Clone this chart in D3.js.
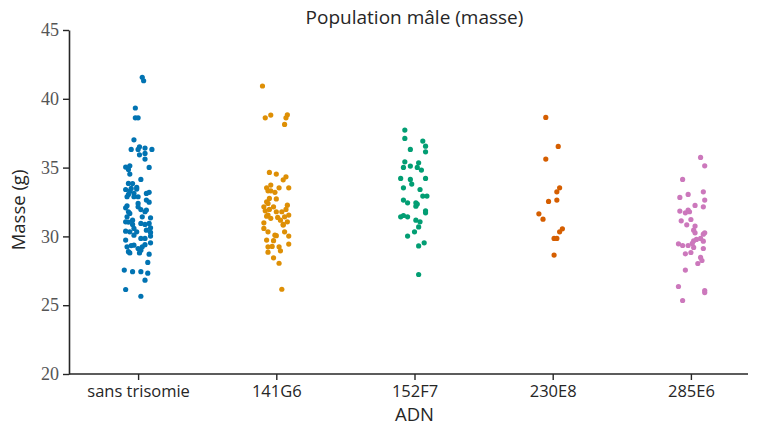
<!DOCTYPE html>
<html><head><meta charset="utf-8">
<script src="https://cdn.jsdelivr.net/npm/d3@7"></script>
<style>body{margin:0;background:#fff}svg{display:block}
.ytick text{font-family:"Liberation Serif","DejaVu Serif",serif !important;}
</style>
</head><body>
<svg id="c" width="760" height="427"></svg>
<script>
const categories = ["sans trisomie","141G6","152F7","230E8","285E6"];
const colors = ["#0173b2","#de8f05","#029e73","#d55e00","#cc78bc"];
const yTicks = [20,25,30,35,40,45];
const title = "Population mâle (masse)";
const xLabel = "ADN";
const yLabel = "Masse (g)";

// values (g) and horizontal jitter (fraction of category step), per category
const valsSans = [41.56,41.31,39.33,38.62,38.62,37.02,36.32,36.32,36.51,36.42,36.32,35.93,36.03,35.62,35.04,35.13,34.87,35.01,34.53,34.14,33.85,33.84,33.56,33.49,33.41,33.29,33.12,33.05,33.12,33.20,32.88,32.88,32.88,32.64,32.49,32.40,32.22,32.08,32.15,31.95,31.79,31.79,31.67,31.91,31.42,31.42,31.35,31.18,31.04,31.06,30.87,30.94,30.87,30.94,30.62,30.58,30.38,30.33,30.33,30.45,30.29,30.09,29.73,29.85,29.85,30.02,29.24,29.36,29.12,29.00,29.24,29.40,29.53,28.80,28.80,28.71,29.33,28.89,28.11,27.55,27.44,27.44,27.33,26.82,26.14,25.65,33.44];
const jitSans = [.03,.04,-.02,-.02,.00,-.03,-.05,.00,.01,.05,.10,.01,.05,.05,-.09,-.06,-.07,.08,-.06,.02,-.07,-.04,-.01,-.05,-.09,-.06,-.03,-.07,.06,.08,-.03,.00,-.08,.06,.08,.00,-.08,-.09,.00,.02,.05,-.07,-.06,.06,.03,-.08,.09,-.04,-.07,-.09,-.04,.02,.05,.08,.09,-.03,-.09,-.06,-.01,.06,.09,-.03,-.09,.02,.05,.09,-.08,-.03,.00,.02,.03,.05,.09,-.06,.01,.08,-.05,-.07,.07,-.10,-.04,.02,.07,.05,-.09,.02,-.01];

const vals141 = [40.93,38.62,38.82,38.84,38.62,38.14,34.65,34.53,34.33,34.11,33.73,33.53,33.53,33.53,33.31,33.31,33.20,32.76,32.72,32.51,32.40,32.15,32.15,32.27,31.86,31.96,31.79,31.79,31.96,31.55,31.42,31.55,31.47,31.31,31.38,31.18,30.99,31.06,30.82,30.58,30.33,30.09,30.05,30.33,30.02,29.73,29.69,29.44,29.24,29.27,29.24,28.85,28.95,28.44,28.05,26.16,30.87];
const jit141 = [-.10,-.08,-.04,.08,.07,.06,-.05,.00,.07,.05,-.04,-.07,.02,.09,-.06,-.04,-.01,-.05,.00,-.07,-.06,-.09,-.02,.08,-.08,-.05,.00,.04,.07,.09,.06,-.06,-.07,-.04,.01,.03,-.09,.08,.05,-.09,-.06,-.01,.00,.06,.09,-.07,-.02,.09,-.06,-.03,.02,-.06,.03,-.02,.02,.04,.05];

const vals152 = [37.73,37.12,36.93,36.56,36.15,36.32,35.42,35.01,35.11,35.35,35.01,34.82,34.21,34.14,33.80,34.21,33.53,33.41,32.93,32.93,32.64,32.44,32.44,32.20,32.35,31.86,31.71,31.42,31.52,31.42,31.18,31.06,30.69,30.33,30.02,29.53,29.31,27.23];
const jit152 = [-.07,-.07,.06,.08,.08,-.03,-.07,-.08,-.03,.03,.02,.05,-.10,-.03,-.02,.08,-.08,.04,.06,.09,-.08,-.05,.01,.01,.02,.08,.08,-.10,-.08,-.05,.01,.04,.03,.00,-.05,.07,.03,.03];

const vals230 = [38.65,36.54,35.62,33.53,33.24,32.54,32.64,31.64,31.25,30.55,30.33,29.85,29.85,28.64];
const jit230 = [-.05,.04,-.05,.05,.03,-.03,.03,-.10,-.07,.07,.05,.01,.03,.01];

const vals285 = [35.74,35.13,34.14,32.83,33.05,33.24,32.64,32.15,32.25,31.84,31.91,31.71,31.79,31.13,30.84,31.23,30.75,30.45,30.26,30.16,30.26,29.85,29.78,29.68,29.49,29.65,29.46,29.34,29.34,29.20,29.12,28.73,28.83,28.47,28.25,28.03,27.55,26.36,26.07,25.92,25.34];
const jit285 = [.07,.10,-.06,-.08,-.02,.09,.10,.09,.03,-.08,-.02,-.04,-.01,-.07,-.03,.00,.03,.02,.03,.09,.10,.07,.04,.02,.01,.09,-.09,-.06,-.02,.02,.09,-.04,.00,.07,.08,.05,-.04,-.09,.10,.10,-.06];

const valueSets = [valsSans, vals141, vals152, vals230, vals285];
const jitterSets = [jitSans, jit141, jit152, jit230, jit285];

const svg = d3.select("#c");
const M = {left:69, right:760, top:30, bottom:374};
const x = d3.scalePoint().domain(categories).range([M.left, M.right]).padding(0.5);
const y = d3.scaleLinear().domain([20,45]).range([M.bottom, M.top]);
const step = x.step();

const ink = "#262626";
const sans = "'Open Sans', sans-serif";
// y axis
const ya = svg.append("g").attr("class","ytick").attr("transform",`translate(${M.left},0)`)
  .call(d3.axisLeft(y).tickValues(yTicks).tickSize(6).tickSizeOuter(0).tickPadding(4));
ya.attr("font-size",18);
ya.select(".domain").attr("stroke",ink).attr("stroke-width",1.6);
ya.selectAll(".tick line").attr("stroke",ink).attr("stroke-width",1.4);
ya.selectAll(".tick text").attr("fill","#555");

// x axis
const xa = svg.append("g").attr("transform",`translate(0,${M.bottom})`)
  .call(d3.axisBottom(x).tickSize(6).tickSizeOuter(0).tickPadding(5));
xa.attr("font-family","Open Sans").attr("font-size",16.5);
xa.select(".domain").attr("d",`M${M.left},0H748`).attr("stroke",ink).attr("stroke-width",1.6);
xa.selectAll(".tick line").attr("stroke",ink).attr("stroke-width",1.4);
xa.selectAll(".tick text").attr("fill",ink);

// points
categories.forEach((c,i)=>{
  const vals = valueSets[i], jit = jitterSets[i];
  svg.append("g").selectAll("circle").data(vals.map((v,k)=>({v, j:jit[k]})))
    .join("circle")
    .attr("cx", d => x(c) + d.j*step)
    .attr("cy", d => y(d.v))
    .attr("r", 2.6)
    .attr("fill", colors[i]);
});

// labels
svg.append("text").attr("x",(M.left+M.right)/2).attr("y",24).attr("text-anchor","middle")
  .attr("font-family",sans).attr("font-size",19).attr("fill",ink).text(title);
svg.append("text").attr("x", x(categories[2])).attr("y",421).attr("text-anchor","middle")
  .attr("font-family",sans).attr("font-size",18.5).attr("fill",ink).text(xLabel);
svg.append("text").attr("transform",`translate(25,210) rotate(-90)`).attr("text-anchor","middle")
  .attr("font-family",sans).attr("font-size",18.5).attr("fill",ink).text(yLabel);
</script>
</body></html>
